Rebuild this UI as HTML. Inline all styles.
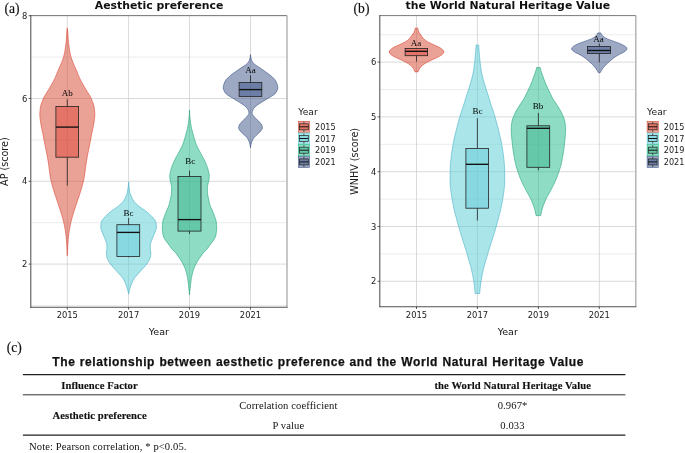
<!DOCTYPE html>
<html><head><meta charset="utf-8"><title>Figure</title>
<style>
html,body{margin:0;padding:0;background:#fff;}
svg{display:block;}
.tk{font-family:"DejaVu Sans","Liberation Sans",sans-serif;font-size:8.4px;fill:#1a1a1a;}
.lk{font-family:"DejaVu Sans","Liberation Sans",sans-serif;font-size:8.1px;fill:#1a1a1a;}
.ay{font-family:"DejaVu Sans","Liberation Sans",sans-serif;font-size:9.6px;fill:#1a1a1a;}
.ax{font-family:"DejaVu Sans","Liberation Sans",sans-serif;font-size:9.55px;fill:#111;}
.lt{font-family:"DejaVu Sans","Liberation Sans",sans-serif;font-size:9.2px;fill:#1a1a1a;}
.tt{font-family:"DejaVu Sans","Liberation Sans",sans-serif;font-size:10.88px;font-weight:bold;fill:#111;}
.tag{font-family:"Liberation Serif",serif;font-size:13.6px;fill:#111;stroke:#111;stroke-width:0.15px;}
.lb{font-family:"Liberation Serif",serif;font-size:9px;fill:#000;}
.ct{font-family:"Liberation Sans",sans-serif;font-size:12px;font-weight:bold;fill:#111;stroke:#111;stroke-width:0.25px;letter-spacing:0.6px;word-spacing:0.45px;}
.tb{font-family:"Liberation Serif",serif;font-size:10.6px;letter-spacing:0.1px;font-weight:bold;fill:#111;stroke:#111;stroke-width:0.15px;}
.tr{font-family:"Liberation Serif",serif;font-size:10.6px;letter-spacing:0.1px;fill:#111;}
.nt{font-family:"Liberation Serif",serif;font-size:10.6px;letter-spacing:0.1px;fill:#111;}
</style></head><body>
<svg width="685" height="453" viewBox="0 0 685 453">
<rect width="685" height="453" fill="#fff"/>
<line x1="30.8" x2="287.0" y1="305.5" y2="305.5" stroke="#e7e7e7" stroke-width="0.8"/>
<line x1="30.8" x2="287.0" y1="222.7" y2="222.7" stroke="#e7e7e7" stroke-width="0.8"/>
<line x1="30.8" x2="287.0" y1="139.9" y2="139.9" stroke="#e7e7e7" stroke-width="0.8"/>
<line x1="30.8" x2="287.0" y1="57.1" y2="57.1" stroke="#e7e7e7" stroke-width="0.8"/>
<line x1="30.8" x2="287.0" y1="264.1" y2="264.1" stroke="#d0d0d0" stroke-width="0.8"/>
<line x1="30.8" x2="287.0" y1="181.3" y2="181.3" stroke="#d0d0d0" stroke-width="0.8"/>
<line x1="30.8" x2="287.0" y1="98.5" y2="98.5" stroke="#d0d0d0" stroke-width="0.8"/>
<line x1="30.8" x2="287.0" y1="15.7" y2="15.7" stroke="#d0d0d0" stroke-width="0.8"/>
<line x1="67.3" x2="67.3" y1="15.6" y2="307.2" stroke="#d0d0d0" stroke-width="0.8"/>
<line x1="128.6" x2="128.6" y1="15.6" y2="307.2" stroke="#d0d0d0" stroke-width="0.8"/>
<line x1="189.5" x2="189.5" y1="15.6" y2="307.2" stroke="#d0d0d0" stroke-width="0.8"/>
<line x1="250.5" x2="250.5" y1="15.6" y2="307.2" stroke="#d0d0d0" stroke-width="0.8"/>
<path d="M67.3 27.9 L67.5 29.4 L67.7 30.9 L67.8 32.4 L67.9 33.9 L68.0 35.4 L68.1 36.9 L68.2 38.4 L68.3 39.9 L68.4 41.4 L68.6 42.9 L68.8 44.4 L69.0 45.9 L69.2 47.4 L69.4 48.9 L69.6 50.4 L69.9 51.9 L70.2 53.4 L70.5 54.9 L70.9 56.4 L71.3 57.9 L71.9 59.4 L72.4 60.9 L73.0 62.4 L73.6 63.9 L74.2 65.4 L74.9 66.9 L75.6 68.4 L76.3 69.9 L76.9 71.4 L77.5 72.9 L78.0 74.4 L78.7 75.9 L79.3 77.4 L80.0 78.9 L80.8 80.4 L81.6 81.9 L82.5 83.4 L83.3 84.9 L84.2 86.4 L85.0 87.9 L85.9 89.4 L86.8 90.9 L87.7 92.4 L88.7 93.9 L89.6 95.4 L90.5 96.9 L91.2 98.4 L91.8 99.9 L92.4 101.4 L93.0 102.9 L93.5 104.4 L93.9 105.9 L94.2 107.4 L94.4 108.9 L94.5 110.4 L94.7 111.9 L94.8 113.4 L94.8 114.9 L94.7 116.4 L94.6 117.9 L94.4 119.4 L94.2 120.9 L94.0 122.4 L93.7 123.9 L93.5 125.4 L93.2 126.9 L92.9 128.4 L92.6 129.9 L92.3 131.4 L91.9 132.9 L91.6 134.4 L91.3 135.9 L91.1 137.4 L90.8 138.9 L90.5 140.4 L90.2 141.9 L89.9 143.4 L89.6 144.9 L89.3 146.4 L89.0 147.9 L88.7 149.4 L88.4 150.9 L88.1 152.4 L87.8 153.9 L87.5 155.4 L87.2 156.9 L87.0 158.4 L86.7 159.9 L86.5 161.4 L86.2 162.9 L86.0 164.4 L85.8 165.9 L85.6 167.4 L85.4 168.9 L85.2 170.4 L85.0 171.9 L84.8 173.4 L84.6 174.9 L84.4 176.4 L84.1 177.9 L83.8 179.4 L83.5 180.9 L83.1 182.4 L82.7 183.9 L82.3 185.4 L81.9 186.9 L81.5 188.4 L81.0 189.9 L80.5 191.4 L80.1 192.9 L79.6 194.4 L79.1 195.9 L78.6 197.4 L78.1 198.9 L77.6 200.4 L77.1 201.9 L76.6 203.4 L76.1 204.9 L75.6 206.4 L75.1 207.9 L74.6 209.4 L74.1 210.9 L73.7 212.4 L73.2 213.9 L72.7 215.4 L72.3 216.9 L71.9 218.4 L71.5 219.9 L71.1 221.4 L70.8 222.9 L70.4 224.4 L70.1 225.9 L69.8 227.4 L69.6 228.9 L69.3 230.4 L69.1 231.9 L68.9 233.4 L68.7 234.9 L68.5 236.4 L68.4 237.9 L68.2 239.4 L68.1 240.9 L68.0 242.4 L67.9 243.9 L67.8 245.4 L67.7 246.9 L67.7 248.4 L67.6 249.9 L67.5 251.4 L67.4 252.9 L67.4 254.4 L67.3 255.7 L67.3 255.7 L67.2 254.4 L67.2 252.9 L67.1 251.4 L67.0 249.9 L66.9 248.4 L66.9 246.9 L66.8 245.4 L66.7 243.9 L66.6 242.4 L66.5 240.9 L66.4 239.4 L66.2 237.9 L66.1 236.4 L65.9 234.9 L65.7 233.4 L65.5 231.9 L65.3 230.4 L65.0 228.9 L64.8 227.4 L64.5 225.9 L64.2 224.4 L63.8 222.9 L63.5 221.4 L63.1 219.9 L62.7 218.4 L62.3 216.9 L61.9 215.4 L61.4 213.9 L60.9 212.4 L60.5 210.9 L60.0 209.4 L59.5 207.9 L59.0 206.4 L58.5 204.9 L58.0 203.4 L57.5 201.9 L57.0 200.4 L56.5 198.9 L56.0 197.4 L55.5 195.9 L55.0 194.4 L54.5 192.9 L54.1 191.4 L53.6 189.9 L53.1 188.4 L52.7 186.9 L52.3 185.4 L51.9 183.9 L51.5 182.4 L51.1 180.9 L50.8 179.4 L50.5 177.9 L50.2 176.4 L50.0 174.9 L49.8 173.4 L49.6 171.9 L49.4 170.4 L49.2 168.9 L49.0 167.4 L48.8 165.9 L48.6 164.4 L48.4 162.9 L48.1 161.4 L47.9 159.9 L47.6 158.4 L47.4 156.9 L47.1 155.4 L46.8 153.9 L46.5 152.4 L46.2 150.9 L45.9 149.4 L45.6 147.9 L45.3 146.4 L45.0 144.9 L44.7 143.4 L44.4 141.9 L44.1 140.4 L43.8 138.9 L43.5 137.4 L43.3 135.9 L43.0 134.4 L42.7 132.9 L42.3 131.4 L42.0 129.9 L41.7 128.4 L41.4 126.9 L41.1 125.4 L40.9 123.9 L40.6 122.4 L40.4 120.9 L40.2 119.4 L40.0 117.9 L39.9 116.4 L39.8 114.9 L39.8 113.4 L39.9 111.9 L40.1 110.4 L40.2 108.9 L40.4 107.4 L40.7 105.9 L41.1 104.4 L41.6 102.9 L42.2 101.4 L42.8 99.9 L43.4 98.4 L44.1 96.9 L45.0 95.4 L45.9 93.9 L46.9 92.4 L47.8 90.9 L48.7 89.4 L49.6 87.9 L50.4 86.4 L51.3 84.9 L52.1 83.4 L53.0 81.9 L53.8 80.4 L54.6 78.9 L55.3 77.4 L55.9 75.9 L56.6 74.4 L57.1 72.9 L57.7 71.4 L58.3 69.9 L59.0 68.4 L59.7 66.9 L60.4 65.4 L61.0 63.9 L61.6 62.4 L62.2 60.9 L62.7 59.4 L63.3 57.9 L63.7 56.4 L64.1 54.9 L64.4 53.4 L64.7 51.9 L65.0 50.4 L65.2 48.9 L65.4 47.4 L65.6 45.9 L65.8 44.4 L66.0 42.9 L66.2 41.4 L66.3 39.9 L66.4 38.4 L66.5 36.9 L66.6 35.4 L66.7 33.9 L66.8 32.4 L66.9 30.9 L67.1 29.4 L67.3 27.9Z" fill="#D6452F" fill-opacity="0.5" stroke="#D9402C" stroke-opacity="0.95" stroke-width="0.6" stroke-linejoin="round"/>
<path d="M128.6 182.0 L128.7 183.5 L128.9 185.0 L129.0 186.5 L129.2 188.0 L129.4 189.5 L129.6 191.0 L129.9 192.5 L130.3 194.0 L130.9 195.5 L131.5 197.0 L132.2 198.5 L133.1 200.0 L134.0 201.5 L135.3 203.0 L137.0 204.5 L138.7 206.0 L140.7 207.5 L142.9 209.0 L145.0 210.5 L147.0 212.0 L148.8 213.5 L150.3 215.0 L151.8 216.5 L153.2 218.0 L154.5 219.5 L155.5 221.0 L156.0 222.5 L156.2 224.0 L156.3 225.5 L156.4 227.0 L156.3 228.5 L155.8 230.0 L155.2 231.5 L154.7 233.0 L154.1 234.5 L153.4 236.0 L152.8 237.5 L152.2 239.0 L151.6 240.5 L151.1 242.0 L150.5 243.5 L150.3 245.0 L150.3 246.5 L150.3 248.0 L150.3 249.5 L150.5 251.0 L150.8 252.5 L150.8 254.0 L150.6 255.5 L150.4 257.0 L149.9 258.5 L149.2 260.0 L148.4 261.5 L147.5 263.0 L146.4 264.5 L145.1 266.0 L143.8 267.5 L142.4 269.0 L141.1 270.5 L139.8 272.0 L138.4 273.5 L137.0 275.0 L135.7 276.5 L134.5 278.0 L133.6 279.5 L132.8 281.0 L132.1 282.5 L131.5 284.0 L130.9 285.5 L130.4 287.0 L130.0 288.5 L129.5 290.0 L129.1 291.5 L128.8 293.0 L128.6 294.1 L128.6 294.1 L128.4 293.0 L128.1 291.5 L127.7 290.0 L127.2 288.5 L126.8 287.0 L126.3 285.5 L125.7 284.0 L125.1 282.5 L124.4 281.0 L123.6 279.5 L122.7 278.0 L121.5 276.5 L120.2 275.0 L118.8 273.5 L117.4 272.0 L116.1 270.5 L114.8 269.0 L113.4 267.5 L112.1 266.0 L110.8 264.5 L109.7 263.0 L108.8 261.5 L108.0 260.0 L107.3 258.5 L106.8 257.0 L106.6 255.5 L106.4 254.0 L106.4 252.5 L106.6 251.0 L106.9 249.5 L106.9 248.0 L106.9 246.5 L106.9 245.0 L106.7 243.5 L106.1 242.0 L105.6 240.5 L105.0 239.0 L104.4 237.5 L103.8 236.0 L103.1 234.5 L102.5 233.0 L102.0 231.5 L101.4 230.0 L100.9 228.5 L100.8 227.0 L100.9 225.5 L101.0 224.0 L101.2 222.5 L101.7 221.0 L102.7 219.5 L104.0 218.0 L105.4 216.5 L106.9 215.0 L108.4 213.5 L110.2 212.0 L112.2 210.5 L114.3 209.0 L116.5 207.5 L118.5 206.0 L120.2 204.5 L121.9 203.0 L123.2 201.5 L124.1 200.0 L125.0 198.5 L125.7 197.0 L126.3 195.5 L126.9 194.0 L127.3 192.5 L127.6 191.0 L127.8 189.5 L128.0 188.0 L128.2 186.5 L128.3 185.0 L128.5 183.5 L128.6 182.0Z" fill="#53CBD3" fill-opacity="0.5" stroke="#3FAEC4" stroke-opacity="0.95" stroke-width="0.6" stroke-linejoin="round"/>
<path d="M189.5 110.2 L189.6 111.7 L189.6 113.2 L189.7 114.7 L189.8 116.2 L190.0 117.7 L190.1 119.2 L190.3 120.7 L190.5 122.2 L190.7 123.7 L191.0 125.2 L191.2 126.7 L191.5 128.2 L191.9 129.7 L192.3 131.2 L192.7 132.7 L193.1 134.2 L193.5 135.7 L193.9 137.2 L194.3 138.7 L194.8 140.2 L195.3 141.7 L195.8 143.2 L196.3 144.7 L197.0 146.2 L197.7 147.7 L198.5 149.2 L199.3 150.7 L200.1 152.2 L200.9 153.7 L201.7 155.2 L202.6 156.7 L203.4 158.2 L204.2 159.7 L204.9 161.2 L205.6 162.7 L206.2 164.2 L206.8 165.7 L207.3 167.2 L207.8 168.7 L208.2 170.2 L208.6 171.7 L208.9 173.2 L209.2 174.7 L209.3 176.2 L209.2 177.7 L209.0 179.2 L208.8 180.7 L208.4 182.2 L208.0 183.7 L207.7 185.2 L207.4 186.7 L207.4 188.2 L207.4 189.7 L207.4 191.2 L207.4 192.7 L207.6 194.2 L207.9 195.7 L208.2 197.2 L208.5 198.7 L208.8 200.2 L209.2 201.7 L209.5 203.2 L209.9 204.7 L210.4 206.2 L211.0 207.7 L211.7 209.2 L212.4 210.7 L213.0 212.2 L213.7 213.7 L214.2 215.2 L214.7 216.7 L215.3 218.2 L215.8 219.7 L216.1 221.2 L216.4 222.7 L216.5 224.2 L216.6 225.7 L216.7 227.2 L216.7 228.7 L216.6 230.2 L216.4 231.7 L216.2 233.2 L216.0 234.7 L215.6 236.2 L215.0 237.7 L214.2 239.2 L213.2 240.7 L212.1 242.2 L210.9 243.7 L209.8 245.2 L208.7 246.7 L207.7 248.2 L206.4 249.7 L204.9 251.2 L203.5 252.7 L202.3 254.2 L201.3 255.7 L200.2 257.2 L199.1 258.7 L198.1 260.2 L197.2 261.7 L196.4 263.2 L195.6 264.7 L194.9 266.2 L194.2 267.7 L193.7 269.2 L193.2 270.7 L192.7 272.2 L192.4 273.7 L192.0 275.2 L191.7 276.7 L191.4 278.2 L191.2 279.7 L191.0 281.2 L190.8 282.7 L190.6 284.2 L190.4 285.7 L190.3 287.2 L190.1 288.7 L189.9 290.2 L189.8 291.7 L189.7 293.2 L189.5 294.7 L189.5 295.0 L189.5 295.0 L189.5 294.7 L189.3 293.2 L189.2 291.7 L189.1 290.2 L188.9 288.7 L188.7 287.2 L188.6 285.7 L188.4 284.2 L188.2 282.7 L188.0 281.2 L187.8 279.7 L187.6 278.2 L187.3 276.7 L187.0 275.2 L186.6 273.7 L186.3 272.2 L185.8 270.7 L185.3 269.2 L184.8 267.7 L184.1 266.2 L183.4 264.7 L182.6 263.2 L181.8 261.7 L180.9 260.2 L179.9 258.7 L178.8 257.2 L177.7 255.7 L176.7 254.2 L175.5 252.7 L174.1 251.2 L172.6 249.7 L171.3 248.2 L170.3 246.7 L169.2 245.2 L168.1 243.7 L166.9 242.2 L165.8 240.7 L164.8 239.2 L164.0 237.7 L163.4 236.2 L163.0 234.7 L162.8 233.2 L162.6 231.7 L162.4 230.2 L162.3 228.7 L162.3 227.2 L162.4 225.7 L162.5 224.2 L162.6 222.7 L162.9 221.2 L163.2 219.7 L163.7 218.2 L164.3 216.7 L164.8 215.2 L165.3 213.7 L166.0 212.2 L166.6 210.7 L167.3 209.2 L168.0 207.7 L168.6 206.2 L169.1 204.7 L169.5 203.2 L169.8 201.7 L170.2 200.2 L170.5 198.7 L170.8 197.2 L171.1 195.7 L171.4 194.2 L171.6 192.7 L171.6 191.2 L171.6 189.7 L171.6 188.2 L171.6 186.7 L171.3 185.2 L171.0 183.7 L170.6 182.2 L170.2 180.7 L170.0 179.2 L169.8 177.7 L169.7 176.2 L169.8 174.7 L170.1 173.2 L170.4 171.7 L170.8 170.2 L171.2 168.7 L171.7 167.2 L172.2 165.7 L172.8 164.2 L173.4 162.7 L174.1 161.2 L174.8 159.7 L175.6 158.2 L176.4 156.7 L177.3 155.2 L178.1 153.7 L178.9 152.2 L179.7 150.7 L180.5 149.2 L181.3 147.7 L182.0 146.2 L182.7 144.7 L183.2 143.2 L183.7 141.7 L184.2 140.2 L184.7 138.7 L185.1 137.2 L185.5 135.7 L185.9 134.2 L186.3 132.7 L186.7 131.2 L187.1 129.7 L187.5 128.2 L187.8 126.7 L188.0 125.2 L188.3 123.7 L188.5 122.2 L188.7 120.7 L188.9 119.2 L189.0 117.7 L189.2 116.2 L189.3 114.7 L189.4 113.2 L189.4 111.7 L189.5 110.2Z" fill="#1EB987" fill-opacity="0.5" stroke="#18A077" stroke-opacity="0.95" stroke-width="0.6" stroke-linejoin="round"/>
<path d="M250.5 54.5 L250.6 56.0 L250.9 57.5 L251.2 59.0 L251.7 60.5 L252.5 62.0 L253.7 63.5 L255.5 65.0 L257.8 66.5 L260.1 68.0 L262.3 69.5 L264.5 71.0 L266.6 72.5 L268.7 74.0 L270.6 75.5 L272.3 77.0 L273.8 78.5 L275.1 80.0 L276.0 81.5 L276.7 83.0 L277.2 84.5 L277.5 86.0 L277.8 87.5 L277.6 89.0 L277.0 90.5 L276.3 92.0 L275.3 93.5 L273.5 95.0 L271.1 96.5 L268.5 98.0 L266.1 99.5 L263.6 101.0 L261.2 102.5 L258.9 104.0 L256.7 105.5 L254.9 107.0 L253.7 108.5 L252.8 110.0 L252.3 111.5 L252.0 113.0 L252.4 114.5 L253.6 116.0 L254.9 117.5 L256.4 119.0 L257.9 120.5 L259.4 122.0 L260.7 123.5 L261.7 125.0 L262.2 126.5 L262.4 128.0 L261.8 129.5 L260.8 131.0 L259.4 132.5 L257.7 134.0 L256.1 135.5 L254.6 137.0 L253.4 138.5 L252.6 140.0 L251.9 141.5 L251.4 143.0 L251.0 144.5 L250.7 146.0 L250.5 147.5 L250.5 147.9 L250.5 147.9 L250.5 147.5 L250.3 146.0 L250.0 144.5 L249.6 143.0 L249.1 141.5 L248.4 140.0 L247.6 138.5 L246.4 137.0 L244.9 135.5 L243.3 134.0 L241.6 132.5 L240.2 131.0 L239.2 129.5 L238.6 128.0 L238.8 126.5 L239.3 125.0 L240.3 123.5 L241.6 122.0 L243.1 120.5 L244.6 119.0 L246.1 117.5 L247.4 116.0 L248.6 114.5 L249.0 113.0 L248.7 111.5 L248.2 110.0 L247.3 108.5 L246.1 107.0 L244.3 105.5 L242.1 104.0 L239.8 102.5 L237.4 101.0 L234.9 99.5 L232.5 98.0 L229.9 96.5 L227.5 95.0 L225.7 93.5 L224.7 92.0 L224.0 90.5 L223.4 89.0 L223.2 87.5 L223.5 86.0 L223.8 84.5 L224.3 83.0 L225.0 81.5 L225.9 80.0 L227.2 78.5 L228.7 77.0 L230.4 75.5 L232.3 74.0 L234.4 72.5 L236.5 71.0 L238.7 69.5 L240.9 68.0 L243.2 66.5 L245.5 65.0 L247.3 63.5 L248.5 62.0 L249.3 60.5 L249.8 59.0 L250.1 57.5 L250.4 56.0 L250.5 54.5Z" fill="#3C5488" fill-opacity="0.5" stroke="#324A80" stroke-opacity="0.95" stroke-width="0.6" stroke-linejoin="round"/>
<line x1="67.3" x2="67.3" y1="99.2" y2="106.4" stroke="#222" stroke-width="0.8"/>
<line x1="67.3" x2="67.3" y1="157.2" y2="185.6" stroke="#222" stroke-width="0.8"/>
<rect x="55.9" y="106.4" width="22.7" height="50.8" fill="#DE4637" fill-opacity="0.5" stroke="#222" stroke-width="0.8"/>
<line x1="55.9" x2="78.6" y1="127.1" y2="127.1" stroke="#111" stroke-width="1.35"/>
<line x1="128.6" x2="128.6" y1="218.0" y2="224.7" stroke="#222" stroke-width="0.8"/>
<line x1="128.6" x2="128.6" y1="256.5" y2="257.3" stroke="#222" stroke-width="0.8"/>
<rect x="116.9" y="224.7" width="22.8" height="31.8" fill="#67CBDB" fill-opacity="0.5" stroke="#222" stroke-width="0.8"/>
<line x1="116.9" x2="139.7" y1="232.4" y2="232.4" stroke="#111" stroke-width="1.35"/>
<line x1="189.5" x2="189.5" y1="170.6" y2="176.5" stroke="#222" stroke-width="0.8"/>
<line x1="189.5" x2="189.5" y1="231.1" y2="233.9" stroke="#222" stroke-width="0.8"/>
<rect x="178.0" y="176.5" width="23.0" height="54.6" fill="#3BB58F" fill-opacity="0.5" stroke="#222" stroke-width="0.8"/>
<line x1="178.0" x2="201.0" y1="219.6" y2="219.6" stroke="#111" stroke-width="1.35"/>
<line x1="250.5" x2="250.5" y1="75.3" y2="82.4" stroke="#222" stroke-width="0.8"/>
<rect x="239.1" y="82.4" width="22.7" height="14.1" fill="#3C5488" fill-opacity="0.5" stroke="#222" stroke-width="0.8"/>
<line x1="239.1" x2="261.8" y1="89.6" y2="89.6" stroke="#111" stroke-width="1.35"/>
<line x1="30.8" x2="287.0" y1="15.6" y2="15.6" stroke="#7a7a7a" stroke-width="1"/>
<line x1="287.0" x2="287.0" y1="15.6" y2="307.2" stroke="#b0b0b0" stroke-width="1.4"/>
<line x1="30.8" x2="30.8" y1="15.1" y2="307.7" stroke="#505050" stroke-width="1.05"/>
<line x1="30.2" x2="287.6" y1="307.3" y2="307.3" stroke="#505050" stroke-width="1.1"/>
<line x1="28.6" x2="30.8" y1="264.1" y2="264.1" stroke="#333" stroke-width="0.8"/>
<text x="27.4" y="267.1" class="tk" text-anchor="end">2</text>
<line x1="28.6" x2="30.8" y1="181.3" y2="181.3" stroke="#333" stroke-width="0.8"/>
<text x="27.4" y="184.3" class="tk" text-anchor="end">4</text>
<line x1="28.6" x2="30.8" y1="98.5" y2="98.5" stroke="#333" stroke-width="0.8"/>
<text x="27.4" y="101.5" class="tk" text-anchor="end">6</text>
<line x1="28.6" x2="30.8" y1="15.7" y2="15.7" stroke="#333" stroke-width="0.8"/>
<text x="27.4" y="18.7" class="tk" text-anchor="end">8</text>
<line x1="67.3" x2="67.3" y1="307.2" y2="309.59999999999997" stroke="#333" stroke-width="0.8"/>
<text x="67.3" y="317.6" class="tk" text-anchor="middle">2015</text>
<line x1="128.6" x2="128.6" y1="307.2" y2="309.59999999999997" stroke="#333" stroke-width="0.8"/>
<text x="128.6" y="317.6" class="tk" text-anchor="middle">2017</text>
<line x1="189.5" x2="189.5" y1="307.2" y2="309.59999999999997" stroke="#333" stroke-width="0.8"/>
<text x="189.5" y="317.6" class="tk" text-anchor="middle">2019</text>
<line x1="250.5" x2="250.5" y1="307.2" y2="309.59999999999997" stroke="#333" stroke-width="0.8"/>
<text x="250.5" y="317.6" class="tk" text-anchor="middle">2021</text>
<text x="158.9" y="334.6" class="ax" text-anchor="middle">Year</text>
<text transform="translate(8.1,161.6) rotate(-90)" class="ay" text-anchor="middle">AP (score)</text>
<text x="159.1" y="8.8" class="tt" text-anchor="middle">Aesthetic preference</text>
<text x="4.4" y="12.9" class="tag">(a)</text>
<text x="67.3" y="95.5" class="lb" text-anchor="middle">Ab</text>
<text x="128.6" y="215.5" class="lb" text-anchor="middle">Bc</text>
<text x="190.3" y="163.5" class="lb" text-anchor="middle">Bc</text>
<text x="250.5" y="72.6" class="lb" text-anchor="middle">Aa</text>
<text x="298.3" y="115.2" class="lt">Year</text>
<rect x="298.3" y="121.3" width="11.2" height="11.1" fill="#D6452F" fill-opacity="0.5" stroke="#D6452F" stroke-width="0.55"/>
<line x1="303.9" x2="303.9" y1="121.8" y2="123.8" stroke="#222" stroke-width="0.7"/>
<line x1="303.9" x2="303.9" y1="129.8" y2="131.9" stroke="#222" stroke-width="0.7"/>
<rect x="299.5" y="123.8" width="8.8" height="6.0" fill="#DE4637" fill-opacity="0.5" stroke="#222" stroke-width="0.7"/>
<line x1="299.5" x2="308.3" y1="126.8" y2="126.8" stroke="#111" stroke-width="1.0"/>
<text x="315.0" y="129.9" class="lk">2015</text>
<rect x="298.3" y="133.0" width="11.2" height="11.1" fill="#53CBD3" fill-opacity="0.5" stroke="#53CBD3" stroke-width="0.55"/>
<line x1="303.9" x2="303.9" y1="133.5" y2="135.5" stroke="#222" stroke-width="0.7"/>
<line x1="303.9" x2="303.9" y1="141.5" y2="143.6" stroke="#222" stroke-width="0.7"/>
<rect x="299.5" y="135.5" width="8.8" height="6.0" fill="#67CBDB" fill-opacity="0.5" stroke="#222" stroke-width="0.7"/>
<line x1="299.5" x2="308.3" y1="138.5" y2="138.5" stroke="#111" stroke-width="1.0"/>
<text x="315.0" y="141.6" class="lk">2017</text>
<rect x="298.3" y="144.7" width="11.2" height="11.1" fill="#1EB987" fill-opacity="0.5" stroke="#1EB987" stroke-width="0.55"/>
<line x1="303.9" x2="303.9" y1="145.2" y2="147.2" stroke="#222" stroke-width="0.7"/>
<line x1="303.9" x2="303.9" y1="153.2" y2="155.3" stroke="#222" stroke-width="0.7"/>
<rect x="299.5" y="147.2" width="8.8" height="6.0" fill="#3BB58F" fill-opacity="0.5" stroke="#222" stroke-width="0.7"/>
<line x1="299.5" x2="308.3" y1="150.2" y2="150.2" stroke="#111" stroke-width="1.0"/>
<text x="315.0" y="153.3" class="lk">2019</text>
<rect x="298.3" y="156.4" width="11.2" height="11.1" fill="#3C5488" fill-opacity="0.5" stroke="#3C5488" stroke-width="0.55"/>
<line x1="303.9" x2="303.9" y1="156.9" y2="158.9" stroke="#222" stroke-width="0.7"/>
<line x1="303.9" x2="303.9" y1="164.9" y2="167.0" stroke="#222" stroke-width="0.7"/>
<rect x="299.5" y="158.9" width="8.8" height="6.0" fill="#3C5488" fill-opacity="0.5" stroke="#222" stroke-width="0.7"/>
<line x1="299.5" x2="308.3" y1="161.9" y2="161.9" stroke="#111" stroke-width="1.0"/>
<text x="315.0" y="165.0" class="lk">2021</text>
<line x1="379.8" x2="635.8" y1="253.9" y2="253.9" stroke="#e7e7e7" stroke-width="0.8"/>
<line x1="379.8" x2="635.8" y1="199.1" y2="199.1" stroke="#e7e7e7" stroke-width="0.8"/>
<line x1="379.8" x2="635.8" y1="144.3" y2="144.3" stroke="#e7e7e7" stroke-width="0.8"/>
<line x1="379.8" x2="635.8" y1="89.5" y2="89.5" stroke="#e7e7e7" stroke-width="0.8"/>
<line x1="379.8" x2="635.8" y1="34.7" y2="34.7" stroke="#e7e7e7" stroke-width="0.8"/>
<line x1="379.8" x2="635.8" y1="281.3" y2="281.3" stroke="#d0d0d0" stroke-width="0.8"/>
<line x1="379.8" x2="635.8" y1="226.5" y2="226.5" stroke="#d0d0d0" stroke-width="0.8"/>
<line x1="379.8" x2="635.8" y1="171.7" y2="171.7" stroke="#d0d0d0" stroke-width="0.8"/>
<line x1="379.8" x2="635.8" y1="116.9" y2="116.9" stroke="#d0d0d0" stroke-width="0.8"/>
<line x1="379.8" x2="635.8" y1="62.1" y2="62.1" stroke="#d0d0d0" stroke-width="0.8"/>
<line x1="416.5" x2="416.5" y1="15.6" y2="306.6" stroke="#d0d0d0" stroke-width="0.8"/>
<line x1="477.4" x2="477.4" y1="15.6" y2="306.6" stroke="#d0d0d0" stroke-width="0.8"/>
<line x1="538.4" x2="538.4" y1="15.6" y2="306.6" stroke="#d0d0d0" stroke-width="0.8"/>
<line x1="599.3" x2="599.3" y1="15.6" y2="306.6" stroke="#d0d0d0" stroke-width="0.8"/>
<path d="M417.7 28.0 L418.0 29.5 L418.5 31.0 L419.1 32.5 L420.2 34.0 L421.2 35.5 L422.2 37.0 L423.5 38.5 L425.0 40.0 L427.0 41.5 L429.8 43.0 L433.2 44.5 L436.5 46.0 L439.7 47.5 L441.8 49.0 L443.4 50.5 L443.9 52.0 L443.2 53.5 L441.6 55.0 L439.1 56.5 L436.0 58.0 L432.8 59.5 L429.5 61.0 L426.7 62.5 L424.2 64.0 L422.3 65.5 L420.7 67.0 L419.6 68.5 L418.8 70.0 L418.2 71.5 L418.0 71.9 L415.0 71.9 L414.8 71.5 L414.2 70.0 L413.4 68.5 L412.3 67.0 L410.7 65.5 L408.8 64.0 L406.3 62.5 L403.5 61.0 L400.2 59.5 L397.0 58.0 L393.9 56.5 L391.4 55.0 L389.8 53.5 L389.1 52.0 L389.6 50.5 L391.2 49.0 L393.3 47.5 L396.5 46.0 L399.8 44.5 L403.2 43.0 L406.0 41.5 L408.0 40.0 L409.5 38.5 L410.8 37.0 L411.8 35.5 L412.8 34.0 L413.9 32.5 L414.5 31.0 L415.0 29.5 L415.3 28.0Z" fill="#D6452F" fill-opacity="0.5" stroke="#D9402C" stroke-opacity="0.95" stroke-width="0.6" stroke-linejoin="round"/>
<path d="M478.7 45.1 L478.8 46.6 L478.9 48.1 L479.0 49.6 L479.1 51.1 L479.2 52.6 L479.4 54.1 L479.5 55.6 L479.6 57.1 L479.7 58.6 L479.9 60.1 L480.0 61.6 L480.2 63.1 L480.4 64.6 L480.6 66.1 L480.8 67.6 L481.0 69.1 L481.3 70.6 L481.5 72.1 L481.8 73.6 L482.1 75.1 L482.5 76.6 L482.9 78.1 L483.2 79.6 L483.6 81.1 L484.1 82.6 L484.5 84.1 L485.0 85.6 L485.5 87.1 L485.9 88.6 L486.4 90.1 L486.9 91.6 L487.4 93.1 L487.9 94.6 L488.4 96.1 L488.9 97.6 L489.3 99.1 L489.8 100.6 L490.2 102.1 L490.7 103.6 L491.1 105.1 L491.6 106.6 L492.1 108.1 L492.7 109.6 L493.2 111.1 L493.7 112.6 L494.2 114.1 L494.6 115.6 L495.1 117.1 L495.5 118.6 L495.9 120.1 L496.3 121.6 L496.7 123.1 L497.1 124.6 L497.5 126.1 L497.9 127.6 L498.3 129.1 L498.7 130.6 L499.0 132.1 L499.4 133.6 L499.8 135.1 L500.1 136.6 L500.4 138.1 L500.8 139.6 L501.1 141.1 L501.4 142.6 L501.6 144.1 L501.9 145.6 L502.2 147.1 L502.4 148.6 L502.7 150.1 L502.9 151.6 L503.1 153.1 L503.3 154.6 L503.5 156.1 L503.7 157.6 L503.8 159.1 L504.0 160.6 L504.2 162.1 L504.3 163.6 L504.4 165.1 L504.5 166.6 L504.5 168.1 L504.6 169.6 L504.6 171.1 L504.7 172.6 L504.7 174.1 L504.7 175.6 L504.7 177.1 L504.7 178.6 L504.7 180.1 L504.6 181.6 L504.6 183.1 L504.6 184.6 L504.5 186.1 L504.3 187.6 L504.2 189.1 L504.0 190.6 L503.8 192.1 L503.6 193.6 L503.4 195.1 L503.1 196.6 L502.9 198.1 L502.6 199.6 L502.4 201.1 L502.1 202.6 L501.8 204.1 L501.5 205.6 L501.2 207.1 L500.9 208.6 L500.5 210.1 L500.2 211.6 L499.8 213.1 L499.4 214.6 L499.0 216.1 L498.6 217.6 L498.2 219.1 L497.8 220.6 L497.4 222.1 L497.0 223.6 L496.6 225.1 L496.2 226.6 L495.7 228.1 L495.3 229.6 L494.9 231.1 L494.4 232.6 L493.9 234.1 L493.5 235.6 L493.0 237.1 L492.5 238.6 L492.1 240.1 L491.6 241.6 L491.1 243.1 L490.6 244.6 L490.1 246.1 L489.7 247.6 L489.2 249.1 L488.7 250.6 L488.3 252.1 L487.8 253.6 L487.4 255.1 L487.0 256.6 L486.6 258.1 L486.1 259.6 L485.7 261.1 L485.2 262.6 L484.8 264.1 L484.3 265.6 L483.9 267.1 L483.6 268.6 L483.2 270.1 L482.9 271.6 L482.5 273.1 L482.2 274.6 L481.9 276.1 L481.7 277.6 L481.4 279.1 L481.1 280.6 L480.9 282.1 L480.7 283.6 L480.5 285.1 L480.3 286.6 L480.2 288.1 L480.0 289.6 L479.9 291.1 L479.7 292.6 L479.6 293.5 L475.2 293.5 L475.1 292.6 L474.9 291.1 L474.8 289.6 L474.6 288.1 L474.5 286.6 L474.3 285.1 L474.1 283.6 L473.9 282.1 L473.7 280.6 L473.4 279.1 L473.1 277.6 L472.9 276.1 L472.6 274.6 L472.3 273.1 L471.9 271.6 L471.6 270.1 L471.2 268.6 L470.9 267.1 L470.5 265.6 L470.0 264.1 L469.6 262.6 L469.1 261.1 L468.7 259.6 L468.2 258.1 L467.8 256.6 L467.4 255.1 L467.0 253.6 L466.5 252.1 L466.1 250.6 L465.6 249.1 L465.1 247.6 L464.7 246.1 L464.2 244.6 L463.7 243.1 L463.2 241.6 L462.7 240.1 L462.3 238.6 L461.8 237.1 L461.3 235.6 L460.9 234.1 L460.4 232.6 L459.9 231.1 L459.5 229.6 L459.1 228.1 L458.6 226.6 L458.2 225.1 L457.8 223.6 L457.4 222.1 L457.0 220.6 L456.6 219.1 L456.2 217.6 L455.8 216.1 L455.4 214.6 L455.0 213.1 L454.6 211.6 L454.3 210.1 L453.9 208.6 L453.6 207.1 L453.3 205.6 L453.0 204.1 L452.7 202.6 L452.4 201.1 L452.2 199.6 L451.9 198.1 L451.7 196.6 L451.4 195.1 L451.2 193.6 L451.0 192.1 L450.8 190.6 L450.6 189.1 L450.5 187.6 L450.3 186.1 L450.2 184.6 L450.2 183.1 L450.2 181.6 L450.1 180.1 L450.1 178.6 L450.1 177.1 L450.1 175.6 L450.1 174.1 L450.1 172.6 L450.2 171.1 L450.2 169.6 L450.3 168.1 L450.3 166.6 L450.4 165.1 L450.5 163.6 L450.6 162.1 L450.8 160.6 L451.0 159.1 L451.1 157.6 L451.3 156.1 L451.5 154.6 L451.7 153.1 L451.9 151.6 L452.1 150.1 L452.4 148.6 L452.6 147.1 L452.9 145.6 L453.2 144.1 L453.4 142.6 L453.7 141.1 L454.0 139.6 L454.4 138.1 L454.7 136.6 L455.0 135.1 L455.4 133.6 L455.8 132.1 L456.1 130.6 L456.5 129.1 L456.9 127.6 L457.3 126.1 L457.7 124.6 L458.1 123.1 L458.5 121.6 L458.9 120.1 L459.3 118.6 L459.7 117.1 L460.2 115.6 L460.6 114.1 L461.1 112.6 L461.6 111.1 L462.1 109.6 L462.7 108.1 L463.2 106.6 L463.7 105.1 L464.1 103.6 L464.6 102.1 L465.0 100.6 L465.5 99.1 L465.9 97.6 L466.4 96.1 L466.9 94.6 L467.4 93.1 L467.9 91.6 L468.4 90.1 L468.9 88.6 L469.3 87.1 L469.8 85.6 L470.3 84.1 L470.7 82.6 L471.2 81.1 L471.6 79.6 L471.9 78.1 L472.3 76.6 L472.7 75.1 L473.0 73.6 L473.3 72.1 L473.5 70.6 L473.8 69.1 L474.0 67.6 L474.2 66.1 L474.4 64.6 L474.6 63.1 L474.8 61.6 L474.9 60.1 L475.1 58.6 L475.2 57.1 L475.3 55.6 L475.4 54.1 L475.6 52.6 L475.7 51.1 L475.8 49.6 L475.9 48.1 L476.0 46.6 L476.1 45.1Z" fill="#53CBD3" fill-opacity="0.5" stroke="#3FAEC4" stroke-opacity="0.95" stroke-width="0.6" stroke-linejoin="round"/>
<path d="M540.2 67.6 L540.5 69.1 L540.9 70.6 L541.4 72.1 L541.9 73.6 L542.5 75.1 L543.0 76.6 L543.5 78.1 L544.1 79.6 L544.6 81.1 L545.2 82.6 L545.8 84.1 L546.5 85.6 L547.2 87.1 L547.9 88.6 L548.6 90.1 L549.3 91.6 L550.0 93.1 L550.8 94.6 L551.5 96.1 L552.2 97.6 L553.1 99.1 L554.0 100.6 L555.0 102.1 L556.1 103.6 L557.0 105.1 L558.0 106.6 L558.9 108.1 L559.8 109.6 L560.7 111.1 L561.5 112.6 L562.2 114.1 L562.8 115.6 L563.4 117.1 L564.0 118.6 L564.5 120.1 L564.8 121.6 L565.1 123.1 L565.3 124.6 L565.4 126.1 L565.5 127.6 L565.6 129.1 L565.6 130.6 L565.5 132.1 L565.4 133.6 L565.3 135.1 L565.2 136.6 L565.1 138.1 L564.9 139.6 L564.8 141.1 L564.6 142.6 L564.5 144.1 L564.3 145.6 L564.1 147.1 L563.9 148.6 L563.7 150.1 L563.5 151.6 L563.3 153.1 L563.0 154.6 L562.8 156.1 L562.5 157.6 L562.2 159.1 L562.0 160.6 L561.6 162.1 L561.3 163.6 L561.0 165.1 L560.5 166.6 L560.1 168.1 L559.6 169.6 L559.1 171.1 L558.6 172.6 L558.1 174.1 L557.5 175.6 L557.0 177.1 L556.4 178.6 L555.7 180.1 L555.1 181.6 L554.4 183.1 L553.7 184.6 L552.9 186.1 L552.2 187.6 L551.4 189.1 L550.6 190.6 L549.8 192.1 L549.0 193.6 L548.1 195.1 L547.3 196.6 L546.5 198.1 L545.8 199.6 L545.1 201.1 L544.5 202.6 L543.9 204.1 L543.3 205.6 L542.8 207.1 L542.3 208.6 L541.9 210.1 L541.5 211.6 L541.2 213.1 L540.9 214.6 L540.7 215.6 L536.1 215.6 L535.9 214.6 L535.6 213.1 L535.3 211.6 L534.9 210.1 L534.5 208.6 L534.0 207.1 L533.5 205.6 L532.9 204.1 L532.3 202.6 L531.7 201.1 L531.0 199.6 L530.3 198.1 L529.5 196.6 L528.7 195.1 L527.8 193.6 L527.0 192.1 L526.2 190.6 L525.4 189.1 L524.6 187.6 L523.9 186.1 L523.1 184.6 L522.4 183.1 L521.7 181.6 L521.1 180.1 L520.4 178.6 L519.8 177.1 L519.3 175.6 L518.7 174.1 L518.2 172.6 L517.7 171.1 L517.2 169.6 L516.7 168.1 L516.3 166.6 L515.8 165.1 L515.5 163.6 L515.2 162.1 L514.8 160.6 L514.6 159.1 L514.3 157.6 L514.0 156.1 L513.8 154.6 L513.5 153.1 L513.3 151.6 L513.1 150.1 L512.9 148.6 L512.7 147.1 L512.5 145.6 L512.3 144.1 L512.2 142.6 L512.0 141.1 L511.9 139.6 L511.7 138.1 L511.6 136.6 L511.5 135.1 L511.4 133.6 L511.3 132.1 L511.2 130.6 L511.2 129.1 L511.3 127.6 L511.4 126.1 L511.5 124.6 L511.7 123.1 L512.0 121.6 L512.3 120.1 L512.8 118.6 L513.4 117.1 L514.0 115.6 L514.6 114.1 L515.3 112.6 L516.1 111.1 L517.0 109.6 L517.9 108.1 L518.8 106.6 L519.8 105.1 L520.7 103.6 L521.8 102.1 L522.8 100.6 L523.7 99.1 L524.6 97.6 L525.3 96.1 L526.0 94.6 L526.8 93.1 L527.5 91.6 L528.2 90.1 L528.9 88.6 L529.6 87.1 L530.3 85.6 L531.0 84.1 L531.6 82.6 L532.2 81.1 L532.7 79.6 L533.3 78.1 L533.8 76.6 L534.3 75.1 L534.9 73.6 L535.4 72.1 L535.9 70.6 L536.3 69.1 L536.6 67.6Z" fill="#1EB987" fill-opacity="0.5" stroke="#18A077" stroke-opacity="0.95" stroke-width="0.6" stroke-linejoin="round"/>
<path d="M600.8 32.9 L601.5 34.4 L602.7 35.9 L604.6 37.4 L607.2 38.9 L611.3 40.4 L615.4 41.9 L619.5 43.4 L622.8 44.9 L625.3 46.4 L626.9 47.9 L626.8 49.4 L625.5 50.9 L623.4 52.4 L620.2 53.9 L617.5 55.4 L615.1 56.9 L613.0 58.4 L611.2 59.9 L609.5 61.4 L607.8 62.9 L606.2 64.4 L604.8 65.9 L603.5 67.4 L602.4 68.9 L601.5 70.4 L600.6 71.9 L600.1 72.8 L598.5 72.8 L598.0 71.9 L597.1 70.4 L596.2 68.9 L595.1 67.4 L593.8 65.9 L592.4 64.4 L590.8 62.9 L589.1 61.4 L587.4 59.9 L585.6 58.4 L583.5 56.9 L581.1 55.4 L578.4 53.9 L575.2 52.4 L573.1 50.9 L571.8 49.4 L571.7 47.9 L573.3 46.4 L575.8 44.9 L579.1 43.4 L583.2 41.9 L587.3 40.4 L591.4 38.9 L594.0 37.4 L595.9 35.9 L597.1 34.4 L597.8 32.9Z" fill="#3C5488" fill-opacity="0.5" stroke="#324A80" stroke-opacity="0.95" stroke-width="0.6" stroke-linejoin="round"/>
<line x1="416.5" x2="416.5" y1="55.7" y2="61.6" stroke="#222" stroke-width="0.8"/>
<rect x="405.1" y="48.5" width="22.5" height="7.2" fill="#DE4637" fill-opacity="0.5" stroke="#222" stroke-width="0.8"/>
<line x1="405.1" x2="427.6" y1="51.3" y2="51.3" stroke="#111" stroke-width="1.35"/>
<line x1="477.4" x2="477.4" y1="118.2" y2="148.4" stroke="#222" stroke-width="0.8"/>
<line x1="477.4" x2="477.4" y1="208.2" y2="220.5" stroke="#222" stroke-width="0.8"/>
<rect x="465.9" y="148.4" width="22.6" height="59.8" fill="#67CBDB" fill-opacity="0.5" stroke="#222" stroke-width="0.8"/>
<line x1="465.9" x2="488.5" y1="164.3" y2="164.3" stroke="#111" stroke-width="1.35"/>
<line x1="538.4" x2="538.4" y1="112.9" y2="125.8" stroke="#222" stroke-width="0.8"/>
<line x1="538.4" x2="538.4" y1="167.3" y2="170.3" stroke="#222" stroke-width="0.8"/>
<rect x="526.9" y="125.8" width="22.8" height="41.5" fill="#3BB58F" fill-opacity="0.5" stroke="#222" stroke-width="0.8"/>
<line x1="526.9" x2="549.7" y1="128.3" y2="128.3" stroke="#111" stroke-width="1.35"/>
<line x1="599.3" x2="599.3" y1="43.5" y2="46.4" stroke="#222" stroke-width="0.8"/>
<line x1="599.3" x2="599.3" y1="53.6" y2="62.4" stroke="#222" stroke-width="0.8"/>
<rect x="587.6" y="46.4" width="23.0" height="7.2" fill="#3C5488" fill-opacity="0.5" stroke="#222" stroke-width="0.8"/>
<line x1="587.6" x2="610.6" y1="50.5" y2="50.5" stroke="#111" stroke-width="1.35"/>
<line x1="379.8" x2="635.8" y1="15.6" y2="15.6" stroke="#7a7a7a" stroke-width="1"/>
<line x1="635.8" x2="635.8" y1="15.6" y2="306.6" stroke="#b0b0b0" stroke-width="1.4"/>
<line x1="379.8" x2="379.8" y1="15.1" y2="307.1" stroke="#505050" stroke-width="1.05"/>
<line x1="379.2" x2="636.4" y1="306.70000000000005" y2="306.70000000000005" stroke="#505050" stroke-width="1.1"/>
<line x1="377.6" x2="379.8" y1="281.3" y2="281.3" stroke="#333" stroke-width="0.8"/>
<text x="376.4" y="284.3" class="tk" text-anchor="end">2</text>
<line x1="377.6" x2="379.8" y1="226.5" y2="226.5" stroke="#333" stroke-width="0.8"/>
<text x="376.4" y="229.5" class="tk" text-anchor="end">3</text>
<line x1="377.6" x2="379.8" y1="171.7" y2="171.7" stroke="#333" stroke-width="0.8"/>
<text x="376.4" y="174.7" class="tk" text-anchor="end">4</text>
<line x1="377.6" x2="379.8" y1="116.9" y2="116.9" stroke="#333" stroke-width="0.8"/>
<text x="376.4" y="119.9" class="tk" text-anchor="end">5</text>
<line x1="377.6" x2="379.8" y1="62.1" y2="62.1" stroke="#333" stroke-width="0.8"/>
<text x="376.4" y="65.1" class="tk" text-anchor="end">6</text>
<line x1="416.5" x2="416.5" y1="306.6" y2="309.0" stroke="#333" stroke-width="0.8"/>
<text x="416.5" y="317.6" class="tk" text-anchor="middle">2015</text>
<line x1="477.4" x2="477.4" y1="306.6" y2="309.0" stroke="#333" stroke-width="0.8"/>
<text x="477.4" y="317.6" class="tk" text-anchor="middle">2017</text>
<line x1="538.4" x2="538.4" y1="306.6" y2="309.0" stroke="#333" stroke-width="0.8"/>
<text x="538.4" y="317.6" class="tk" text-anchor="middle">2019</text>
<line x1="599.3" x2="599.3" y1="306.6" y2="309.0" stroke="#333" stroke-width="0.8"/>
<text x="599.3" y="317.6" class="tk" text-anchor="middle">2021</text>
<text x="507.8" y="334.6" class="ax" text-anchor="middle">Year</text>
<text transform="translate(358.0,161.3) rotate(-90)" class="ay" text-anchor="middle">WNHV (score)</text>
<text x="507.8" y="8.8" class="tt" text-anchor="middle">the World Natural Heritage Value</text>
<text x="353.6" y="12.9" class="tag">(b)</text>
<text x="416.0" y="45.7" class="lb" text-anchor="middle">Aa</text>
<text x="477.4" y="113.5" class="lb" text-anchor="middle">Bc</text>
<text x="538.1" y="108.6" class="lb" text-anchor="middle">Bb</text>
<text x="598.6" y="41.6" class="lb" text-anchor="middle">Aa</text>
<text x="647.0999999999999" y="115.2" class="lt">Year</text>
<rect x="647.0999999999999" y="121.3" width="11.2" height="11.1" fill="#D6452F" fill-opacity="0.5" stroke="#D6452F" stroke-width="0.55"/>
<line x1="652.6999999999999" x2="652.6999999999999" y1="121.8" y2="123.8" stroke="#222" stroke-width="0.7"/>
<line x1="652.6999999999999" x2="652.6999999999999" y1="129.8" y2="131.9" stroke="#222" stroke-width="0.7"/>
<rect x="648.3" y="123.8" width="8.8" height="6.0" fill="#DE4637" fill-opacity="0.5" stroke="#222" stroke-width="0.7"/>
<line x1="648.3" x2="657.0999999999999" y1="126.8" y2="126.8" stroke="#111" stroke-width="1.0"/>
<text x="663.8" y="129.9" class="lk">2015</text>
<rect x="647.0999999999999" y="133.0" width="11.2" height="11.1" fill="#53CBD3" fill-opacity="0.5" stroke="#53CBD3" stroke-width="0.55"/>
<line x1="652.6999999999999" x2="652.6999999999999" y1="133.5" y2="135.5" stroke="#222" stroke-width="0.7"/>
<line x1="652.6999999999999" x2="652.6999999999999" y1="141.5" y2="143.6" stroke="#222" stroke-width="0.7"/>
<rect x="648.3" y="135.5" width="8.8" height="6.0" fill="#67CBDB" fill-opacity="0.5" stroke="#222" stroke-width="0.7"/>
<line x1="648.3" x2="657.0999999999999" y1="138.5" y2="138.5" stroke="#111" stroke-width="1.0"/>
<text x="663.8" y="141.6" class="lk">2017</text>
<rect x="647.0999999999999" y="144.7" width="11.2" height="11.1" fill="#1EB987" fill-opacity="0.5" stroke="#1EB987" stroke-width="0.55"/>
<line x1="652.6999999999999" x2="652.6999999999999" y1="145.2" y2="147.2" stroke="#222" stroke-width="0.7"/>
<line x1="652.6999999999999" x2="652.6999999999999" y1="153.2" y2="155.3" stroke="#222" stroke-width="0.7"/>
<rect x="648.3" y="147.2" width="8.8" height="6.0" fill="#3BB58F" fill-opacity="0.5" stroke="#222" stroke-width="0.7"/>
<line x1="648.3" x2="657.0999999999999" y1="150.2" y2="150.2" stroke="#111" stroke-width="1.0"/>
<text x="663.8" y="153.3" class="lk">2019</text>
<rect x="647.0999999999999" y="156.4" width="11.2" height="11.1" fill="#3C5488" fill-opacity="0.5" stroke="#3C5488" stroke-width="0.55"/>
<line x1="652.6999999999999" x2="652.6999999999999" y1="156.9" y2="158.9" stroke="#222" stroke-width="0.7"/>
<line x1="652.6999999999999" x2="652.6999999999999" y1="164.9" y2="167.0" stroke="#222" stroke-width="0.7"/>
<rect x="648.3" y="158.9" width="8.8" height="6.0" fill="#3C5488" fill-opacity="0.5" stroke="#222" stroke-width="0.7"/>
<line x1="648.3" x2="657.0999999999999" y1="161.9" y2="161.9" stroke="#111" stroke-width="1.0"/>
<text x="663.8" y="165.0" class="lk">2021</text>
<text x="6.8" y="352" class="tag">(c)</text>
<text x="52.3" y="366.3" class="ct">The relationship between aesthetic preference and the World Natural Heritage Value</text>
<line x1="22.9" x2="625.4" y1="374.7" y2="374.7" stroke="#222" stroke-width="1.2"/>
<line x1="22.9" x2="625.4" y1="394.8" y2="394.8" stroke="#333" stroke-width="1"/>
<line x1="22.9" x2="625.4" y1="435.2" y2="435.2" stroke="#222" stroke-width="1.2"/>
<text x="99.5" y="388.7" class="tb" text-anchor="middle">Influence Factor</text>
<text x="512.8" y="388.7" class="tb" text-anchor="middle">the World Natural Heritage Value</text>
<text x="99.6" y="418.5" class="tb" text-anchor="middle">Aesthetic preference</text>
<text x="288.3" y="408.7" class="tr" text-anchor="middle">Correlation coefficient</text>
<text x="288.3" y="428.8" class="tr" text-anchor="middle">P value</text>
<text x="512.6" y="408.7" class="tr" text-anchor="middle">0.967*</text>
<text x="512.5" y="428.8" class="tr" text-anchor="middle">0.033</text>
<text x="29" y="449.6" class="nt">Note: Pearson correlation, * p&lt;0.05.</text>
</svg>
</body></html>
